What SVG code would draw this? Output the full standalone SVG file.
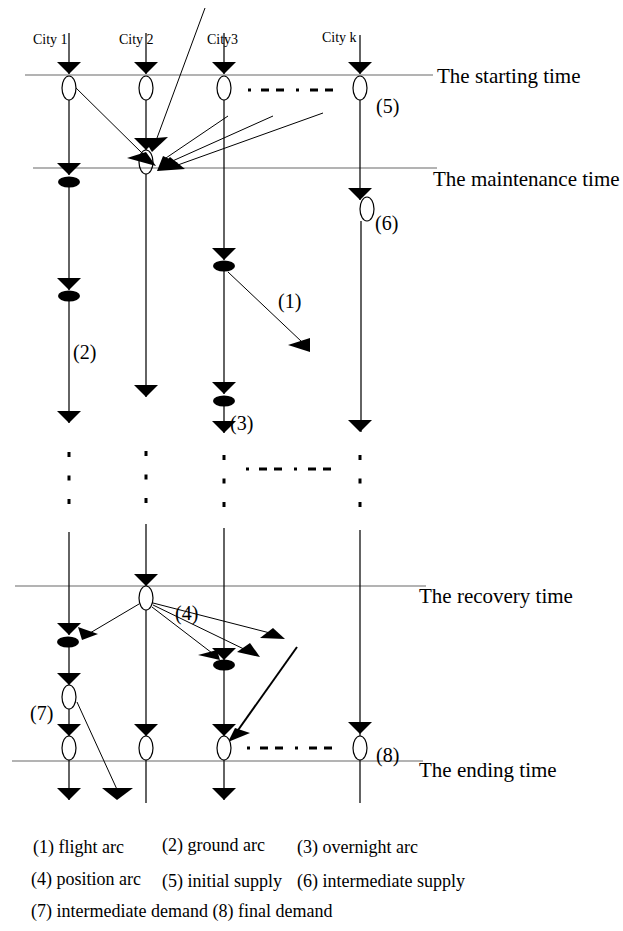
<svg xmlns="http://www.w3.org/2000/svg" xmlns:xlink="http://www.w3.org/1999/xlink" width="623" height="931" viewBox="0 0 623 931">
<style>
.bg{fill:#fff}
.tl{stroke:#9a9a9a;stroke-width:1.3;fill:none}
.v{stroke:#111;stroke-width:1.3;fill:none}
.a{stroke:#000;stroke-width:1;fill:none}
.ak{stroke:#000;stroke-width:2;fill:none}
.dd{stroke:#000;stroke-width:3;fill:none;stroke-dasharray:3 10 8 7 8 12 3 11 8 7 8 30}
.dv{stroke:#000;stroke-width:3;fill:none;stroke-dasharray:5 18.5}
.on{fill:#fff;stroke:#000;stroke-width:1.2}
.fn{fill:#000}
.ah{fill:#000}
text{font-family:"Liberation Serif","Times New Roman",serif;fill:#000}
.city{font-size:14px}
.time{font-size:21px}
.lab{font-size:20px}
.leg{font-size:18px}
</style>
<defs>
<polygon id="tri" points="-12,-12 12,-12 0,0" fill="#000"/>
</defs>
<rect class="bg" x="0" y="0" width="623" height="931"/>

<g id="time-lines">
<line class="tl" x1="25" y1="75" x2="433" y2="75"/>
<line class="tl" x1="33" y1="168" x2="437" y2="168"/>
<line class="tl" x1="15" y1="586" x2="426" y2="586"/>
<line class="tl" x1="12" y1="761" x2="423" y2="761"/>
<text class="time" x="437" y="83">The starting time</text>
<text class="time" x="433" y="186">The maintenance time</text>
<text class="time" x="419" y="603">The recovery time</text>
<text class="time" x="419" y="777">The ending time</text>
</g>

<g id="connectors">
<!-- City 1 -->
<path class="v" d="M69 33V74M69 100V175M69 187V290M69 301V423M69 532V635M69 647V685M69 709V736M69 760V800"/>
<line class="dv" x1="69" y1="452" x2="69" y2="505"/>
<use href="#tri" x="69" y="74"/>
<use href="#tri" x="69" y="175"/>
<use href="#tri" x="69" y="290"/>
<use href="#tri" x="69" y="423"/>
<use href="#tri" x="69" y="635"/>
<use href="#tri" x="69" y="685"/>
<use href="#tri" x="69" y="736"/>
<use href="#tri" x="69" y="800"/>
<!-- City 2 -->
<path class="v" d="M146 33V74M146 100V150M146 174V397M146 524V586M146 610V736M146 760V803"/>
<line class="dv" x1="146" y1="451" x2="146" y2="504"/>
<use href="#tri" x="146" y="74"/>
<use href="#tri" x="146" y="150"/>
<use href="#tri" x="146" y="397"/>
<use href="#tri" x="146" y="586"/>
<use href="#tri" x="146" y="736"/>
<!-- City 3 -->
<path class="v" d="M224 33V74M224 100V260M224 271V394M224 406V433M224 528V660M224 670V736M224 760V800"/>
<line class="dv" x1="224" y1="455" x2="224" y2="509"/>
<use href="#tri" x="224" y="74"/>
<use href="#tri" x="224" y="260"/>
<use href="#tri" x="224" y="394"/>
<use href="#tri" x="224" y="433"/>
<use href="#tri" x="224" y="660"/>
<use href="#tri" x="224" y="736"/>
<use href="#tri" x="224" y="800"/>
<!-- City k -->
<path class="v" d="M360 35V74M360 100V200M361 221V432M360 530V736M360 760V803"/>
<line class="dv" x1="360" y1="455" x2="360" y2="508"/>
<use href="#tri" x="360" y="74"/>
<use href="#tri" x="360" y="200"/>
<use href="#tri" x="360" y="432"/>
<use href="#tri" x="360" y="734"/>
<!-- dash-dot rows -->
<line class="dd" x1="248" y1="90" x2="333" y2="90"/>
<line class="dd" x1="246" y1="469" x2="333" y2="469"/>
<line class="dd" x1="247" y1="748" x2="335" y2="748"/>
<!-- arcs into City 2 maintenance node -->
<line class="a" x1="205" y1="8" x2="157" y2="138"/>
<polygon class="ah" points="144,139 168,137 152,152"/>
<line class="a" x1="73" y1="85" x2="143" y2="154"/>
<polygon class="ah" points="127,158 146,152 156,166"/>
<line class="a" x1="228" y1="116" x2="163" y2="160"/>
<line class="a" x1="273" y1="116" x2="168" y2="163"/>
<line class="a" x1="323" y1="113" x2="175" y2="166"/>
<polygon class="ah" points="157,171 163,156 178,163"/>
<polygon class="ah" points="157,171 170,157 185,169"/>
<!-- flight arc -->
<line class="a" x1="228" y1="272" x2="302" y2="342"/>
<polygon class="ah" points="288,345 310,338 310,352"/>
<!-- position arcs from City 2 recovery node -->
<line class="a" x1="139" y1="604" x2="90" y2="633"/>
<polygon class="ah" points="78,627 98,634 82,640"/>
<line class="a" x1="153" y1="603" x2="270" y2="633"/>
<polygon class="ah" points="273,628 285,639 260,638"/>
<line class="a" x1="153" y1="605" x2="250" y2="652"/>
<polygon class="ah" points="250,643 260,657 237,652"/>
<line class="a" x1="152" y1="607" x2="212" y2="653"/>
<polygon class="ah" points="198,655 217,650 220,660"/>
<!-- thick arc into City 3 ending node -->
<line class="ak" x1="297" y1="647" x2="236" y2="733"/>
<polygon class="ah" points="228,742 235,728 250,733"/>
<!-- arc from intermediate demand node -->
<line class="a" x1="77" y1="702" x2="120" y2="796"/>
<polygon class="ah" points="102,788 133,788 117,800"/>
</g>

<g id="city-labels">
<text class="city" x="33" y="44">City 1</text>
<text class="city" x="119" y="44">City 2</text>
<text class="city" x="207" y="44">City3</text>
<text class="city" x="322" y="42">City k</text>
</g>

<g id="node-c1-start"><ellipse class="on" cx="69" cy="88" rx="7" ry="12"/></g>
<g id="node-c2-start"><ellipse class="on" cx="146" cy="88" rx="7" ry="12"/></g>
<g id="node-c3-start"><ellipse class="on" cx="224" cy="88" rx="7" ry="12"/></g>
<g id="node-ck-start"><ellipse class="on" cx="360" cy="88" rx="7" ry="12"/></g>
<g id="node-c2-maint"><ellipse class="on" cx="146" cy="162" rx="7" ry="12" fill-opacity="0"/></g>
<g id="node-c1-a"><ellipse class="fn" cx="69" cy="182" rx="11" ry="5.5"/></g>
<g id="node-c1-b"><ellipse class="fn" cx="69" cy="296" rx="11" ry="5.5"/></g>
<g id="node-ck-6"><ellipse class="on" cx="367" cy="209" rx="7" ry="12"/></g>
<g id="node-c3-a"><ellipse class="fn" cx="224" cy="266" rx="11" ry="5.5"/></g>
<g id="node-c3-b"><ellipse class="fn" cx="224" cy="401" rx="11" ry="5.5"/></g>
<g id="node-c2-recov"><ellipse class="on" cx="146" cy="598" rx="7" ry="12"/></g>
<g id="node-c1-c"><ellipse class="fn" cx="68" cy="642" rx="11" ry="5.5"/></g>
<g id="node-c3-c"><ellipse class="fn" cx="224" cy="665" rx="11" ry="5.5"/></g>
<g id="node-c1-7"><ellipse class="on" cx="69" cy="697" rx="7" ry="12"/></g>
<g id="node-c1-end"><ellipse class="on" cx="69" cy="748" rx="7" ry="12"/></g>
<g id="node-c2-end"><ellipse class="on" cx="146" cy="748" rx="7" ry="12"/></g>
<g id="node-c3-end"><ellipse class="on" cx="224" cy="748" rx="7" ry="12"/></g>
<g id="node-ck-end"><ellipse class="on" cx="360" cy="748" rx="7" ry="12"/></g>

<g id="arc-labels">
<text class="lab" x="376" y="113">(5)</text>
<text class="lab" x="375" y="230">(6)</text>
<text class="lab" x="278" y="308">(1)</text>
<text class="lab" x="73" y="359">(2)</text>
<text class="lab" x="230" y="430">(3)</text>
<text class="lab" x="175" y="620">(4)</text>
<text class="lab" x="30" y="720">(7)</text>
<text class="lab" x="376" y="762">(8)</text>
</g>

<g id="legend">
<text class="leg" x="33" y="853">(1) flight arc</text>
<text class="leg" x="162" y="851">(2) ground arc</text>
<text class="leg" x="297" y="853">(3) overnight arc</text>
<text class="leg" x="31" y="885">(4) position arc</text>
<text class="leg" x="162" y="887">(5) initial supply</text>
<text class="leg" x="297" y="887">(6) intermediate supply</text>
<text class="leg" x="31" y="917">(7) intermediate demand  (8) final demand</text>
</g>
</svg>
